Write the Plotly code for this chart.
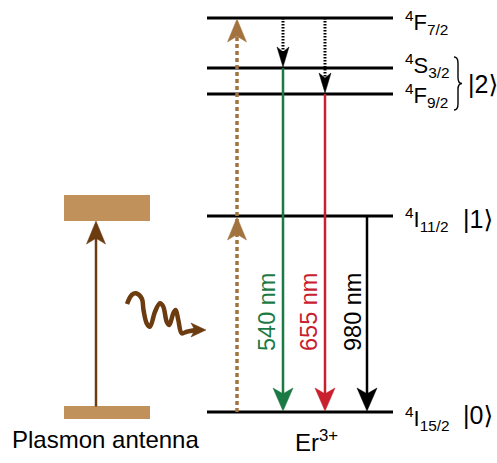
import plotly.graph_objects as go

# ---- schematic energy scale (diagram units, ground state at the bottom) ----
level_names = ["4I15/2", "4I11/2", "4F9/2", "4S3/2", "4F7/2"]
level_labels = [
    "<sup>4</sup>I<sub>15/2</sub>",
    "<sup>4</sup>I<sub>11/2</sub>",
    "<sup>4</sup>F<sub>9/2</sub>",
    "<sup>4</sup>S<sub>3/2</sub>",
    "<sup>4</sup>F<sub>7/2</sub>",
]
level_energy = [51, 247, 369, 395, 445]

# radiative transitions down to the ground state
emission_from = ["4S3/2", "4F9/2", "4I11/2"]
emission_nm = [540, 655, 980]
# nonradiative relaxation feeding the emitting levels
relax_from = ["4F7/2", "4F7/2"]
relax_to = ["4S3/2", "4F9/2"]
# sequential (two-step) excitation path
pump_steps = ["4I15/2", "4I11/2", "4F7/2"]
# ket labels
ket_labels = ["|0⟩", "|1⟩", "|2⟩"]
ket_levels = [["4I15/2"], ["4I11/2"], ["4S3/2", "4F9/2"]]
# plasmon antenna: ground and excited mode
antenna_energy = [50.5, 255]

E = dict(zip(level_names, level_energy))

# ---- styling / placement ----
W, H = 497, 463
FONT = "Arial"
GREEN, RED, BLACK = "#1b7a44", "#c8202e", "#000000"
TAN, BROWN_DASH, BROWN = "#c0915a", "#a3733f", "#6c3b10"
emission_color = [GREEN, RED, BLACK]
emission_x = [283, 325, 367]
relax_x = [283, 325]
pump_x = 237
line_x0, line_x1 = 207, 393
label_x = 403
ket_x = 461
ant_x0, ant_x1, ant_arrow_x = 64, 150, 96

shapes = []
annotations = []


def head(x, y, dx, dy, length, width, color, notch=0.25):
    """Filled arrowhead with tip at (x, y) pointing along (dx, dy)."""
    bx, by = x - length * dx, y - length * dy
    px, py = -dy, dx
    c1 = (bx + width / 2 * px, by + width / 2 * py)
    c2 = (bx - width / 2 * px, by - width / 2 * py)
    n = (x - length * (1 - notch) * dx, y - length * (1 - notch) * dy)
    path = (f"M{x},{y} L{c1[0]},{c1[1]} L{n[0]},{n[1]} "
            f"L{c2[0]},{c2[1]} Z")
    shapes.append(dict(type="path", path=path, fillcolor=color,
                       line=dict(width=0.5, color=color), layer="above"))


def vline(x, y0, y1, color, width, dash="solid"):
    shapes.append(dict(type="line", x0=x, x1=x, y0=y0, y1=y1,
                       line=dict(color=color, width=width, dash=dash)))


# energy levels of Er3+
for name, e in zip(level_names, level_energy):
    shapes.append(dict(type="line", x0=line_x0, x1=line_x1, y0=e, y1=e,
                       line=dict(color="black", width=3)))

# level term symbols
label_shift = {"4I15/2": -6, "4I11/2": -3, "4F9/2": -1, "4S3/2": 3, "4F7/2": -4}
for name, lab, e in zip(level_names, level_labels, level_energy):
    annotations.append(dict(x=label_x, y=e, text=lab, showarrow=False,
                            xanchor="left", yanchor="middle",
                            yshift=label_shift[name],
                            font=dict(family=FONT, size=22, color="black")))

# ket labels
for ket, lv in zip(ket_labels, ket_levels):
    e = sum(E[k] for k in lv) / len(lv)
    annotations.append(dict(x=ket_x if len(lv) == 1 else ket_x + 5, y=e,
                            text=ket, showarrow=False,
                            xanchor="left", yanchor="middle", yshift=-3,
                            font=dict(family="Arial, DejaVu Sans",
                                      size=25, color="black")))

# curly brace grouping 4S3/2 and 4F9/2
yt, yb = E["4S3/2"] + 11, E["4F9/2"] - 16
ym = (yt + yb) / 2
brace = (f"M454,{yt} Q458,{yt} 458,{yt - 6} L458,{ym + 6} "
         f"Q458,{ym} 462,{ym} Q458,{ym} 458,{ym - 6} "
         f"L458,{yb + 6} Q458,{yb} 454,{yb}")
shapes.append(dict(type="path", path=brace, line=dict(color="black", width=1.4)))

# two-step pump path (dashed brown)
vline(pump_x, E[pump_steps[0]], E[pump_steps[-1]] - 14, BROWN_DASH, 3.5,
      dash="4px,3px")
for step in pump_steps[1:]:
    head(pump_x, E[step] - 1, 0, 1, 23, 19, BROWN_DASH)

# nonradiative relaxation (dotted black)
for x, a, b in zip(relax_x, relax_from, relax_to):
    vline(x, E[a], E[b] + 14, BLACK, 3, dash="1.5px,1.5px")
    head(x, E[b] + 1, 0, -1, 20, 12, BLACK)

# radiative emission arrows
for x, src, nm, col in zip(emission_x, emission_from, emission_nm,
                           emission_color):
    vline(x, E[src], E["4I15/2"] + 14, col, 2.5)
    head(x, E["4I15/2"] + 1, 0, -1, 23, 20, col)
    annotations.append(dict(x=x - 16 if nm != 980 else x - 14,
                            y=151, text=f"{nm} nm", showarrow=False,
                            textangle=-90, xanchor="center",
                            yanchor="middle",
                            font=dict(family=FONT, size=23.5, color=col)))

# plasmon antenna modes
for e, h in zip(antenna_energy, [13, 26]):
    shapes.append(dict(type="rect", x0=ant_x0, x1=ant_x1, y0=e - h / 2,
                       y1=e + h / 2, fillcolor=TAN, line=dict(width=0)))
ant_top = antenna_energy[1] - 13
vline(ant_arrow_x, antenna_energy[0] + 6, ant_top - 14, BROWN, 2.5)
head(ant_arrow_x, ant_top, 0, 1, 23, 19, BROWN)

# near-field coupling (wavy arrow)
wave_x = [127, 131.7, 136, 141.7, 143.5, 146.7, 150, 155, 160, 163.3,
          166.7, 169.3, 173.3, 175.7, 178.3, 181.7, 186.7, 196]
wave_py = [304, 295, 293.3, 298.3, 310, 323.3, 326.7, 311.7, 303.3, 306.7,
           321.7, 325, 313.3, 310, 320, 333.3, 331.7, 330]
fig = go.Figure()
fig.add_trace(go.Scatter(
    x=wave_x, y=[H - p for p in wave_py], mode="lines",
    line=dict(color=BROWN, width=4.5, shape="spline", smoothing=1.0),
    hoverinfo="skip", showlegend=False))
head(206, H - 330, 1, 0, 15, 14, BROWN)

# captions
annotations.append(dict(x=105, y=H - 439, text="Plasmon antenna",
                        showarrow=False, xanchor="center", yanchor="middle",
                        font=dict(family=FONT, size=24, color="black")))
annotations.append(dict(x=316, y=H - 441, text="Er<sup>3+</sup>",
                        showarrow=False, xanchor="center", yanchor="middle",
                        font=dict(family=FONT, size=24, color="black")))

fig.update_layout(
    width=W, height=H, autosize=False,
    margin=dict(l=0, r=0, t=0, b=0),
    paper_bgcolor="white", plot_bgcolor="white",
    xaxis=dict(range=[0, W], visible=False, fixedrange=True),
    yaxis=dict(range=[0, H], visible=False, fixedrange=True),
    shapes=shapes, annotations=annotations, showlegend=False,
)

fig.write_html("out.html")
